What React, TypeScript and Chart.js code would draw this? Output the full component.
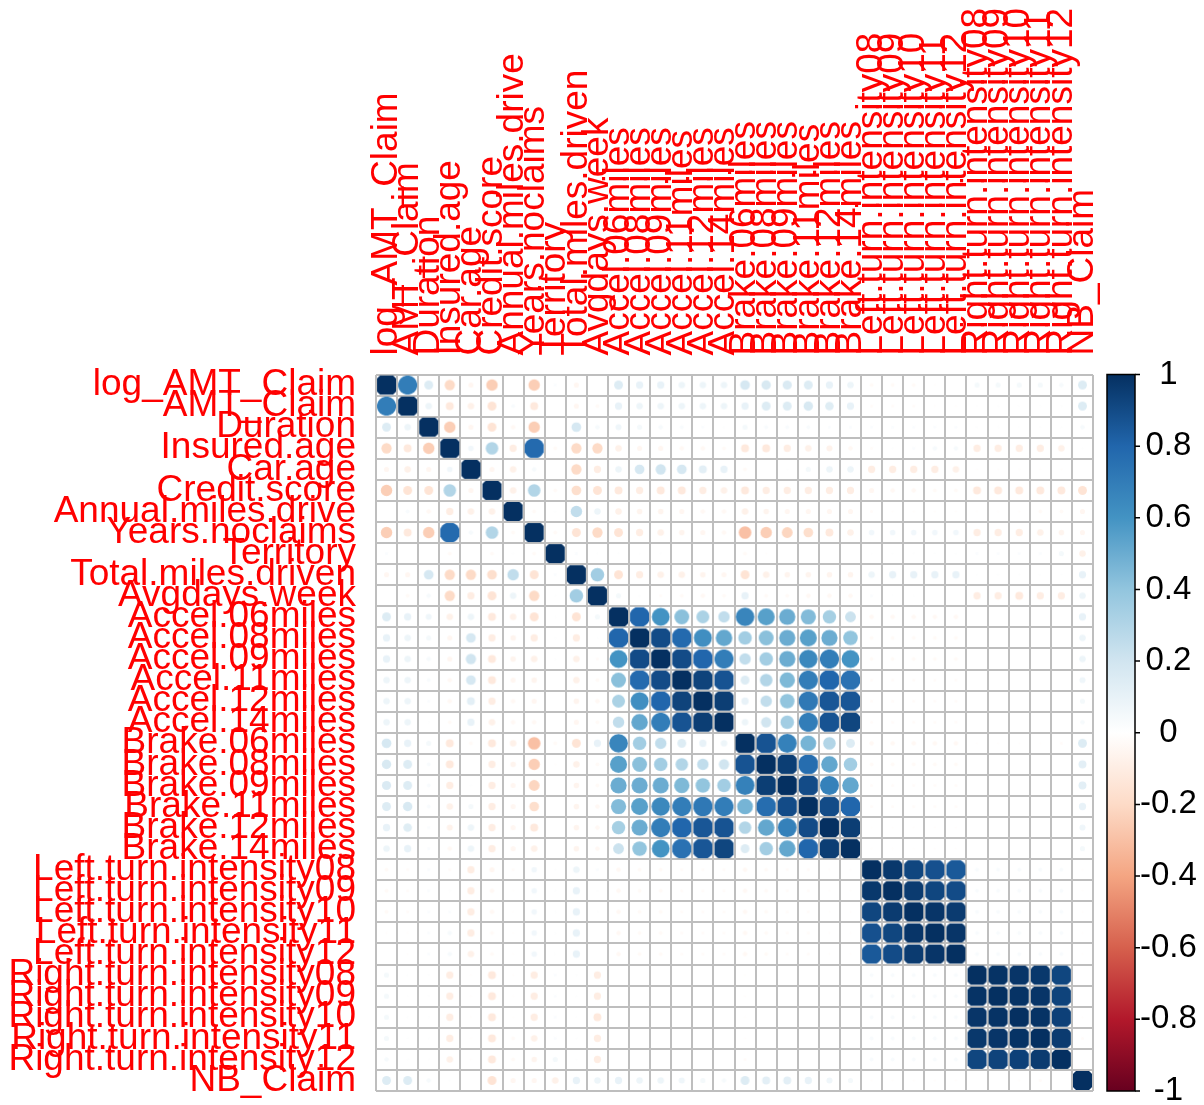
import { useEffect, useRef } from "react";
import { Chart, registerables } from "chart.js";

Chart.register(...registerables);

// Variables in matrix order (rows top to bottom, columns left to right)
const variables = [
  "log_AMT_Claim", "AMT_Claim", "Duration", "Insured.age", "Car.age", "Credit.score",
  "Annual.miles.drive", "Years.noclaims", "Territory", "Total.miles.driven", "Avgdays.week",
  "Accel.06miles", "Accel.08miles", "Accel.09miles", "Accel.11miles", "Accel.12miles", "Accel.14miles",
  "Brake.06miles", "Brake.08miles", "Brake.09miles", "Brake.11miles", "Brake.12miles", "Brake.14miles",
  "Left.turn.intensity08", "Left.turn.intensity09", "Left.turn.intensity10", "Left.turn.intensity11", "Left.turn.intensity12",
  "Right.turn.intensity08", "Right.turn.intensity09", "Right.turn.intensity10", "Right.turn.intensity11", "Right.turn.intensity12",
  "NB_Claim",
];

// Upper triangle of the correlation matrix: row i holds columns i..33
const upperTriangle: number[][] = [
  [1, 0.7, 0.15, -0.2, -0.05, -0.25, 0.0, -0.25, 0.02, -0.05, 0.0, 0.15, 0.1, 0.1, 0.08, 0.08, 0.08, 0.18, 0.17, 0.16, 0.15, 0.1, 0.08, -0.03, -0.03, -0.03, -0.01, 0.0, 0.05, 0.05, 0.05, 0.05, 0.04, 0.15],
  [1, 0.08, -0.12, -0.08, -0.15, 0.03, -0.12, 0.0, -0.05, -0.03, 0.1, 0.08, 0.08, 0.08, 0.08, 0.08, 0.1, 0.15, 0.15, 0.17, 0.14, 0.1, -0.02, -0.02, -0.02, -0.01, -0.01, 0.01, 0.01, 0.01, 0.01, 0.01, 0.15],
  [1, -0.25, -0.05, -0.15, -0.04, -0.25, 0.0, 0.18, 0.04, 0.07, 0.05, 0.04, 0.03, 0.02, 0.01, 0.05, 0.03, 0.03, 0.03, 0.02, 0.02, 0.02, 0.02, 0.02, 0.02, 0.02, 0.01, 0.01, 0.01, 0.01, 0.01, 0.04],
  [1, 0.06, 0.3, -0.1, 0.78, -0.03, -0.2, -0.2, -0.08, -0.05, -0.05, -0.04, -0.04, -0.03, -0.12, -0.12, -0.1, -0.08, -0.07, -0.04, -0.02, 0.01, 0.02, 0.04, 0.04, -0.1, -0.1, -0.1, -0.1, -0.08, 0.01],
  [1, -0.05, -0.08, 0.04, 0.0, -0.2, -0.1, 0.08, 0.18, 0.2, 0.18, 0.12, 0.1, -0.03, 0.0, 0.01, 0.05, 0.08, 0.08, -0.1, -0.1, -0.1, -0.1, -0.08, -0.01, -0.01, -0.01, -0.01, -0.01, 0.0],
  [1, -0.08, 0.3, -0.03, -0.18, -0.15, -0.12, -0.1, -0.12, -0.12, -0.1, -0.08, -0.12, -0.1, -0.1, -0.1, -0.1, -0.1, -0.05, -0.04, -0.04, -0.03, -0.03, -0.12, -0.12, -0.12, -0.12, -0.12, -0.15],
  [1, -0.03, 0.01, 0.25, 0.08, -0.08, -0.06, -0.06, -0.05, -0.04, -0.04, -0.08, -0.06, -0.05, -0.05, -0.05, -0.05, -0.02, -0.01, -0.01, -0.01, -0.01, -0.01, -0.01, -0.01, -0.03, -0.03, -0.05],
  [1, -0.03, -0.15, -0.2, -0.15, -0.1, -0.08, -0.06, -0.05, -0.04, -0.3, -0.25, -0.22, -0.18, -0.12, -0.08, 0.06, 0.06, 0.06, 0.06, 0.06, -0.1, -0.1, -0.1, -0.08, -0.06, -0.05],
  [1, 0.02, 0.01, 0.01, 0.01, 0.01, 0.0, 0.0, 0.0, -0.03, -0.01, 0.0, 0.0, 0.0, 0.0, 0.01, 0.01, 0.01, 0.01, 0.01, 0.02, 0.02, 0.02, 0.02, 0.05, -0.08],
  [1, 0.35, -0.15, -0.1, -0.08, -0.08, -0.06, -0.05, -0.15, -0.08, -0.06, -0.06, -0.06, -0.06, 0.08, 0.1, 0.1, 0.1, 0.1, 0.01, 0.01, 0.01, 0.01, 0.01, 0.1],
  [1, 0.05, 0.01, -0.02, -0.03, -0.04, -0.03, 0.1, -0.03, -0.03, -0.04, -0.04, -0.04, 0.02, 0.01, 0.01, 0.0, 0.0, -0.1, -0.1, -0.12, -0.1, -0.1, 0.08],
  [1, 0.8, 0.6, 0.42, 0.32, 0.25, 0.66, 0.55, 0.5, 0.44, 0.34, 0.22, -0.04, -0.04, -0.04, -0.04, -0.04, 0.0, 0.0, 0.0, 0.0, 0.0, 0.1],
  [1, 0.9, 0.78, 0.62, 0.52, 0.35, 0.42, 0.5, 0.55, 0.5, 0.4, -0.03, -0.03, -0.03, -0.03, -0.03, 0.0, 0.0, 0.0, 0.0, 0.0, 0.08],
  [1, 0.9, 0.8, 0.7, 0.25, 0.35, 0.5, 0.65, 0.7, 0.6, -0.03, -0.03, -0.03, -0.03, -0.03, 0.0, 0.0, 0.0, 0.0, 0.0, 0.08],
  [1, 0.93, 0.87, 0.15, 0.3, 0.45, 0.7, 0.8, 0.75, -0.02, -0.02, -0.02, -0.02, -0.02, 0.0, 0.0, 0.0, 0.0, 0.0, 0.07],
  [1, 0.95, 0.1, 0.25, 0.4, 0.72, 0.86, 0.86, -0.02, -0.02, -0.02, -0.02, -0.02, 0.0, 0.0, 0.0, 0.0, 0.0, 0.05],
  [1, 0.08, 0.2, 0.35, 0.7, 0.87, 0.92, -0.02, -0.02, -0.02, -0.02, -0.02, 0.0, 0.0, 0.0, 0.0, 0.0, 0.04],
  [1, 0.87, 0.68, 0.47, 0.3, 0.15, -0.04, -0.04, -0.04, -0.04, -0.04, -0.01, -0.01, -0.01, -0.01, -0.02, 0.15],
  [1, 0.95, 0.77, 0.52, 0.35, -0.03, -0.03, -0.03, -0.03, -0.03, 0.0, 0.0, 0.0, 0.0, 0.0, 0.12],
  [1, 0.9, 0.68, 0.52, -0.02, -0.02, -0.02, -0.02, -0.02, 0.0, 0.0, 0.0, 0.0, 0.0, 0.12],
  [1, 0.9, 0.8, -0.02, -0.02, -0.02, -0.02, -0.02, 0.0, 0.0, 0.0, 0.0, 0.0, 0.1],
  [1, 0.95, -0.01, -0.01, -0.01, -0.01, -0.01, 0.0, 0.0, 0.0, 0.0, 0.0, 0.07],
  [1, -0.01, -0.01, -0.01, -0.01, -0.01, 0.0, 0.0, 0.0, 0.0, 0.0, 0.05],
  [1, 0.97, 0.92, 0.88, 0.85, 0.03, 0.03, 0.03, 0.03, 0.03, -0.01],
  [1, 0.96, 0.92, 0.9, 0.03, 0.03, 0.03, 0.03, 0.03, -0.01],
  [1, 0.98, 0.96, 0.03, 0.03, 0.03, 0.03, 0.03, -0.01],
  [1, 0.98, 0.03, 0.03, 0.03, 0.03, 0.03, -0.01],
  [1, 0.03, 0.03, 0.03, 0.03, 0.03, -0.01],
  [1, 0.99, 0.98, 0.97, 0.92, 0.0],
  [1, 0.99, 0.98, 0.93, 0.0],
  [1, 0.99, 0.94, -0.01],
  [1, 0.96, -0.02],
  [1, 0.0],
  [1],
];

// Colour legend ticks
const colorbarTicks = [1, 0.8, 0.6, 0.4, 0.2, 0, -0.2, -0.4, -0.6, -0.8, -1];

// Diverging red-white-blue palette, from -1 to 1
const rdBuStops = [
  "#67001F", "#B2182B", "#D6604D", "#F4A582", "#FDDBC7", "#FFFFFF",
  "#D1E5F0", "#92C5DE", "#4393C3", "#2166AC", "#053061",
];

const FONT_FAMILY = '"Liberation Sans", Arial, Helvetica, sans-serif';
const LABEL_RED = "#FF0000";
const GRID_GREY = "#BEBEBE";
const LABEL_SIZE = 37;
const LABEL_LINE = 1.2;

type Cell = { x: string; y: string; r: number };

function fullMatrix(): number[][] {
  const n = variables.length;
  const m = Array.from({ length: n }, () => new Array<number>(n).fill(0));
  upperTriangle.forEach((row, i) => {
    row.forEach((v, k) => {
      m[i][i + k] = v;
      m[i + k][i] = v;
    });
  });
  return m;
}

function hexToRgb(hex: string): [number, number, number] {
  const v = parseInt(hex.slice(1), 16);
  return [(v >> 16) & 255, (v >> 8) & 255, v & 255];
}

function corrColor(r: number): string {
  const t = ((Math.max(-1, Math.min(1, r)) + 1) / 2) * (rdBuStops.length - 1);
  const i = Math.min(Math.floor(t), rdBuStops.length - 2);
  const f = t - i;
  const a = hexToRgb(rdBuStops[i]);
  const b = hexToRgb(rdBuStops[i + 1]);
  const c = a.map((av, k) => Math.round(av + (b[k] - av) * f));
  return `rgb(${c[0]},${c[1]},${c[2]})`;
}

// Circle glyph for one cell, clipped to the cell interior
const glyphCache = new Map<string, HTMLCanvasElement>();
function cellGlyph(r: number, cell: number): HTMLCanvasElement {
  const size = Math.round(cell);
  const inner = cell - 2;
  const radius = 0.545 * cell * Math.sqrt(Math.abs(r));
  const color = corrColor(r);
  const key = `${size}|${color}|${radius.toFixed(2)}`;
  const hit = glyphCache.get(key);
  if (hit) return hit;
  const c = document.createElement("canvas");
  c.width = size;
  c.height = size;
  const g = c.getContext("2d")!;
  g.beginPath();
  g.rect((size - inner) / 2, (size - inner) / 2, inner, inner);
  g.clip();
  g.beginPath();
  g.arc(size / 2, size / 2, radius, 0, Math.PI * 2);
  g.fillStyle = color;
  g.fill();
  glyphCache.set(key, c);
  return c;
}

// Fix an axis box to a given size with no extra label overhang padding
function fixBox(size: { width?: number; height?: number }) {
  return (s: any) => {
    if (size.width !== undefined) s.width = size.width;
    if (size.height !== undefined) s.height = size.height;
    s.paddingTop = 0;
    s.paddingBottom = 0;
    s.paddingLeft = 0;
    s.paddingRight = 0;
  };
}

const colorbarPlugin = {
  id: "colorbar",
  afterDraw(chart: any) {
    const s = chart.scales.yBar;
    const ctx: CanvasRenderingContext2D = chart.ctx;
    const top = s.getPixelForValue(1);
    const bottom = s.getPixelForValue(-1);
    const x0 = s.left + 14;
    const x1 = s.left + 42;
    const grad = ctx.createLinearGradient(0, bottom, 0, top);
    rdBuStops.forEach((c, i) => grad.addColorStop(i / (rdBuStops.length - 1), c));
    ctx.save();
    ctx.fillStyle = grad;
    ctx.fillRect(x0, top, x1 - x0, bottom - top);
    ctx.strokeStyle = "#000";
    ctx.lineWidth = 1.5;
    ctx.strokeRect(x0, top, x1 - x0, bottom - top);
    ctx.beginPath();
    colorbarTicks.forEach((v) => {
      const y = s.getPixelForValue(v);
      ctx.moveTo(x1, y);
      ctx.lineTo(x1 + 5, y);
    });
    ctx.stroke();
    ctx.restore();
  },
};

export default function App() {
  const canvasRef = useRef<HTMLCanvasElement | null>(null);

  useEffect(() => {
    const canvas = canvasRef.current;
    if (!canvas) return;
    const m = fullMatrix();
    const cells: Cell[] = [];
    m.forEach((row, i) =>
      row.forEach((r, j) => cells.push({ x: variables[j], y: variables[i], r }))
    );

    const axisGrid = { offset: true, color: GRID_GREY, lineWidth: 2, drawTicks: false };

    const chart = new Chart(canvas, {
      type: "scatter",
      data: {
        datasets: [
          {
            data: cells as any,
            radius: 10,
            pointStyle: (ctx: any) => {
              const raw = ctx.raw as Cell;
              const cell = Math.min(
                ctx.chart.scales.x.width / variables.length,
                ctx.chart.scales.y.height / variables.length
              );
              return cellGlyph(raw ? raw.r : 0, cell);
            },
          } as any,
        ],
      },
      options: {
        animation: false,
        responsive: false,
        devicePixelRatio: 1,
        events: [],
        layout: { autoPadding: false, padding: { top: 0, left: 0, right: 0, bottom: 14 } },
        plugins: { legend: { display: false }, tooltip: { enabled: false } },
        scales: {
          x: {
            type: "category",
            labels: variables,
            position: "top",
            offset: true,
            grid: axisGrid,
            border: { display: false },
            ticks: {
              autoSkip: false,
              minRotation: 90,
              maxRotation: 90,
              color: LABEL_RED,
              padding: 19,
              // rotated top labels are drawn one line-height before the tick
              labelOffset: LABEL_SIZE * LABEL_LINE,
              font: { family: FONT_FAMILY, size: LABEL_SIZE, lineHeight: LABEL_LINE },
            },
            afterFit: fixBox({ height: 374.5 }),
          },
          y: {
            type: "category",
            labels: variables,
            position: "left",
            offset: true,
            grid: axisGrid,
            border: { display: false },
            ticks: {
              autoSkip: false,
              color: LABEL_RED,
              padding: 20,
              font: { family: FONT_FAMILY, size: LABEL_SIZE, lineHeight: LABEL_LINE },
            },
            afterFit: fixBox({ width: 376 }),
          },
          yBar: {
            type: "linear",
            axis: "y",
            position: "right",
            min: -1,
            max: 1,
            grid: { display: false, drawTicks: false },
            border: { display: false },
            afterBuildTicks: (s: any) => {
              s.ticks = colorbarTicks.map((v) => ({ value: v }));
            },
            ticks: {
              color: "#000",
              crossAlign: "center",
              padding: 47,
              font: { family: FONT_FAMILY, size: 33 },
              callback: (v: any) => String(v),
            },
            afterFit: fixBox({ width: 111 }),
          },
        } as any,
      },
      plugins: [colorbarPlugin],
    });

    return () => chart.destroy();
  }, []);

  return (
    <div style={{ position: "fixed", left: 0, top: 0, width: 1204, height: 1105, background: "#fff" }}>
      <canvas ref={canvasRef} width={1204} height={1105} style={{ display: "block" }} />
    </div>
  );
}
